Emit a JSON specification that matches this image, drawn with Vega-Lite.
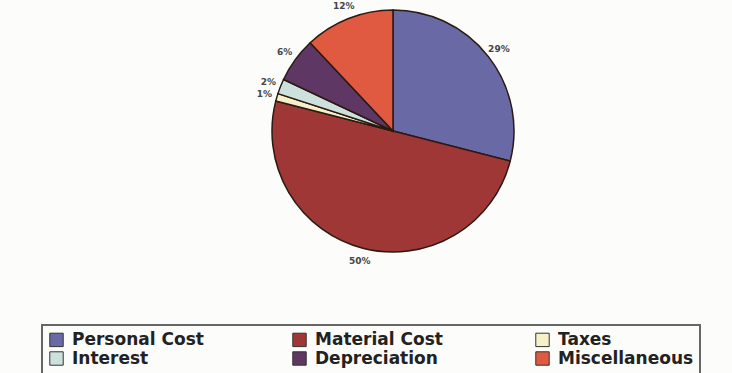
{
  "$schema": "https://vega.github.io/schema/vega-lite/v6.json",
  "width": 678,
  "height": 262,
  "autosize": {"type": "none"},
  "padding": {"left": 54, "top": 0, "right": 0, "bottom": 111},
  "background": "#fcfcfa",
  "data": {
    "values": [
      {"category": "Personal Cost", "value": 29, "label": "29%", "idx": 1},
      {"category": "Material Cost", "value": 50, "label": "50%", "idx": 2},
      {"category": "Taxes", "value": 1, "label": "1%", "idx": 3},
      {"category": "Interest", "value": 2, "label": "2%", "idx": 4},
      {"category": "Depreciation", "value": 6, "label": "6%", "idx": 5},
      {"category": "Miscellaneous", "value": 12, "label": "12%", "idx": 6}
    ]
  },
  "encoding": {
    "theta": {"field": "value", "type": "quantitative", "stack": true},
    "order": {"field": "idx", "type": "quantitative"}
  },
  "layer": [
    {
      "mark": {"type": "arc", "outerRadius": 121, "stroke": "#2a1a12", "strokeWidth": 1.5},
      "encoding": {
        "color": {
          "field": "category",
          "type": "nominal",
          "sort": ["Personal Cost", "Material Cost", "Taxes", "Interest", "Depreciation", "Miscellaneous"],
          "scale": {
            "domain": ["Personal Cost", "Material Cost", "Taxes", "Interest", "Depreciation", "Miscellaneous"],
            "range": ["#6969a5", "#a03737", "#f5f0c8", "#cde1dc", "#5f3764", "#e05a41"]
          },
          "legend": {
            "title": null,
            "orient": "none",
            "legendX": -12,
            "legendY": 325,
            "direction": "horizontal",
            "columns": 3
          }
        }
      }
    },
    {
      "mark": {"type": "text", "radius": 134, "font": "DejaVu Sans", "fontWeight": "bold", "fontSize": 9, "fill": "#444"},
      "encoding": {"text": {"field": "label", "type": "nominal"}}
    }
  ],
  "config": {
    "view": {"stroke": null},
    "legend": {
      "symbolType": "square",
      "symbolSize": 180,
      "symbolStrokeColor": "#333",
      "symbolStrokeWidth": 1,
      "labelFont": "DejaVu Sans",
      "labelFontWeight": "bold",
      "labelFontSize": 17,
      "labelColor": "#222",
      "labelLimit": 400,
      "labelOffset": 7,
      "columnPadding": 82,
      "rowPadding": 0,
      "gridAlign": "all",
      "padding": 6,
      "strokeColor": "#666",
      "strokeWidth": 2
    }
  }
}
